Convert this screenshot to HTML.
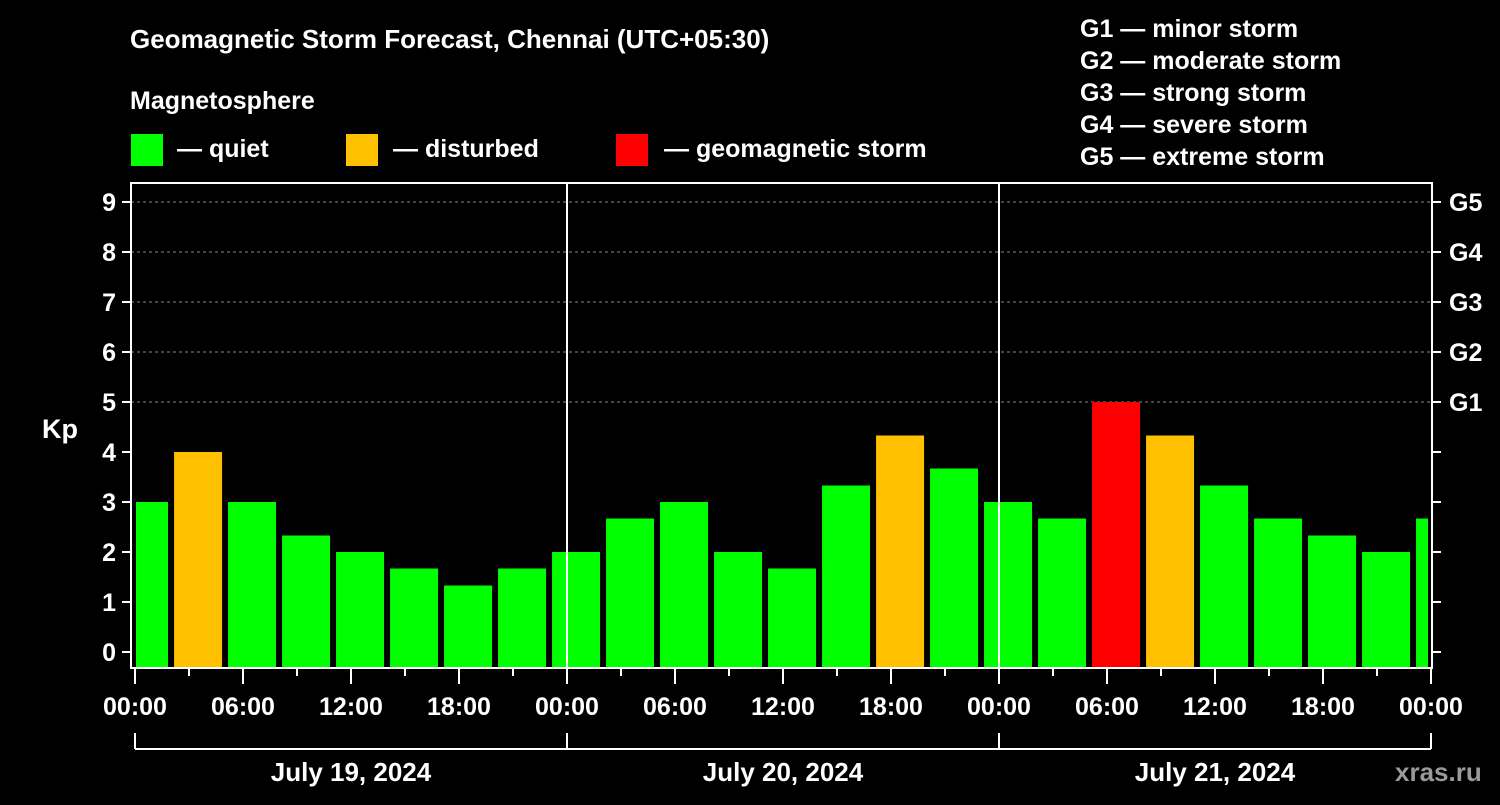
<!DOCTYPE html>
<html><head><meta charset="utf-8"><style>
body{margin:0;background:#000;width:1500px;height:800px;overflow:hidden}
text{font-family:"Liberation Sans",Arial,sans-serif;font-weight:bold;fill:#fff}
</style></head><body>
<svg id="chart" width="1500" height="800" xmlns="http://www.w3.org/2000/svg">
<text x="130" y="48" font-size="26">Geomagnetic Storm Forecast, Chennai (UTC+05:30)</text>
<text x="130" y="109" font-size="25">Magnetosphere</text>
<g><rect x="131" y="134" width="32" height="32" fill="#00ff00"/><text x="177" y="157" font-size="25">— quiet</text></g>
<g><rect x="346" y="134" width="32" height="32" fill="#ffc000"/><text x="393" y="157" font-size="25">— disturbed</text></g>
<g><rect x="616" y="134" width="32" height="32" fill="#ff0000"/><text x="664" y="157" font-size="25">— geomagnetic storm</text></g>
<g font-size="25">
<text x="1080" y="37">G1 — minor storm</text><text x="1080" y="69">G2 — moderate storm</text><text x="1080" y="101">G3 — strong storm</text><text x="1080" y="133">G4 — severe storm</text><text x="1080" y="165">G5 — extreme storm</text>
</g>
<text x="42" y="438" font-size="27">Kp</text>
<text x="1395" y="781" font-size="26" fill="#aaa" style="fill:#9a9a9a">xras.ru</text>
<g id="grid"></g><g id="bars"></g><g id="axes"></g>
</svg>
<script>
const kpValues=[3,4,3,2.33,2,1.67,1.33,1.67,2,2.67,3,2,1.67,3.33,4.33,3.67,3,2.67,5,4.33,3.33,2.67,2.33,2,2.67];
const yTicks=[0,1,2,3,4,5,6,7,8,9];
const gLabels=["G1","G2","G3","G4","G5"];
const xTickLabels=["00:00","06:00","12:00","18:00","00:00","06:00","12:00","18:00","00:00","06:00","12:00","18:00","00:00"];
const dayLabels=["July 19, 2024","July 20, 2024","July 21, 2024"];
const NS="http://www.w3.org/2000/svg";
const X0=135,PXH=18,L=131,R=1432,T=183,B=668;
const xs=h=>X0+h*PXH, ys=k=>652-50*k;
function mk(tag,at,parent){const e=document.createElementNS(NS,tag);for(const k in at)e.setAttribute(k,at[k]);document.getElementById(parent).appendChild(e);return e;}
yTicks.forEach(k=>{if(k>=5){const e=mk('line',{x1:L,x2:R,y1:ys(k),y2:ys(k),stroke:'#888','stroke-dasharray':'3,3','stroke-width':1},'grid');

}});
kpValues.forEach((v,i)=>{let x1=xs(2.17+3*(i-1)),x2=x1+48;x1=Math.max(x1,136);x2=Math.min(x2,1428);
const c=v>=5?'#ff0000':(v>=4?'#ffc000':'#00ff00');
const e=mk('rect',{x:x1,y:ys(v),width:x2-x1,height:B-ys(v),fill:c},'bars');

});
const fr=mk('rect',{x:L,y:T,width:R-L,height:B-T,fill:'none',stroke:'#fff','stroke-width':2},'axes');


[1,2].forEach(d=>{const e=mk('line',{x1:xs(24*d),x2:xs(24*d),y1:T,y2:B,stroke:'#fff','stroke-width':2},'axes');

});
yTicks.forEach(k=>{mk('line',{x1:122,x2:L,y1:ys(k),y2:ys(k),stroke:'#fff','stroke-width':2},'axes');
mk('line',{x1:R,x2:1441,y1:ys(k),y2:ys(k),stroke:'#fff','stroke-width':2},'axes');
const t=mk('text',{x:116,y:ys(k)+9,'font-size':25,'text-anchor':'end'},'axes');t.textContent=k;

});
gLabels.forEach((g,i)=>{const t=mk('text',{x:1449,y:ys(5+i)+9,'font-size':25},'axes');t.textContent=g;

});
for(let h=0;h<=72;h+=3){const maj=h%6===0;mk('line',{x1:xs(h),x2:xs(h),y1:B,y2:B+(maj?16:8),stroke:'#fff','stroke-width':2},'axes');}
xTickLabels.forEach((s,i)=>{const t=mk('text',{x:xs(6*i),y:715,'font-size':25,'text-anchor':'middle'},'axes');t.textContent=s;

});
mk('line',{x1:xs(0),x2:xs(72),y1:749,y2:749,stroke:'#fff','stroke-width':2},'axes');
for(let d=0;d<=3;d++)mk('line',{x1:xs(24*d),x2:xs(24*d),y1:733,y2:749,stroke:'#fff','stroke-width':2},'axes');
dayLabels.forEach((s,i)=>{const t=mk('text',{x:xs(24*i+12),y:781,'font-size':26,'text-anchor':'middle'},'axes');t.textContent=s;

});
</script>
</body></html>
